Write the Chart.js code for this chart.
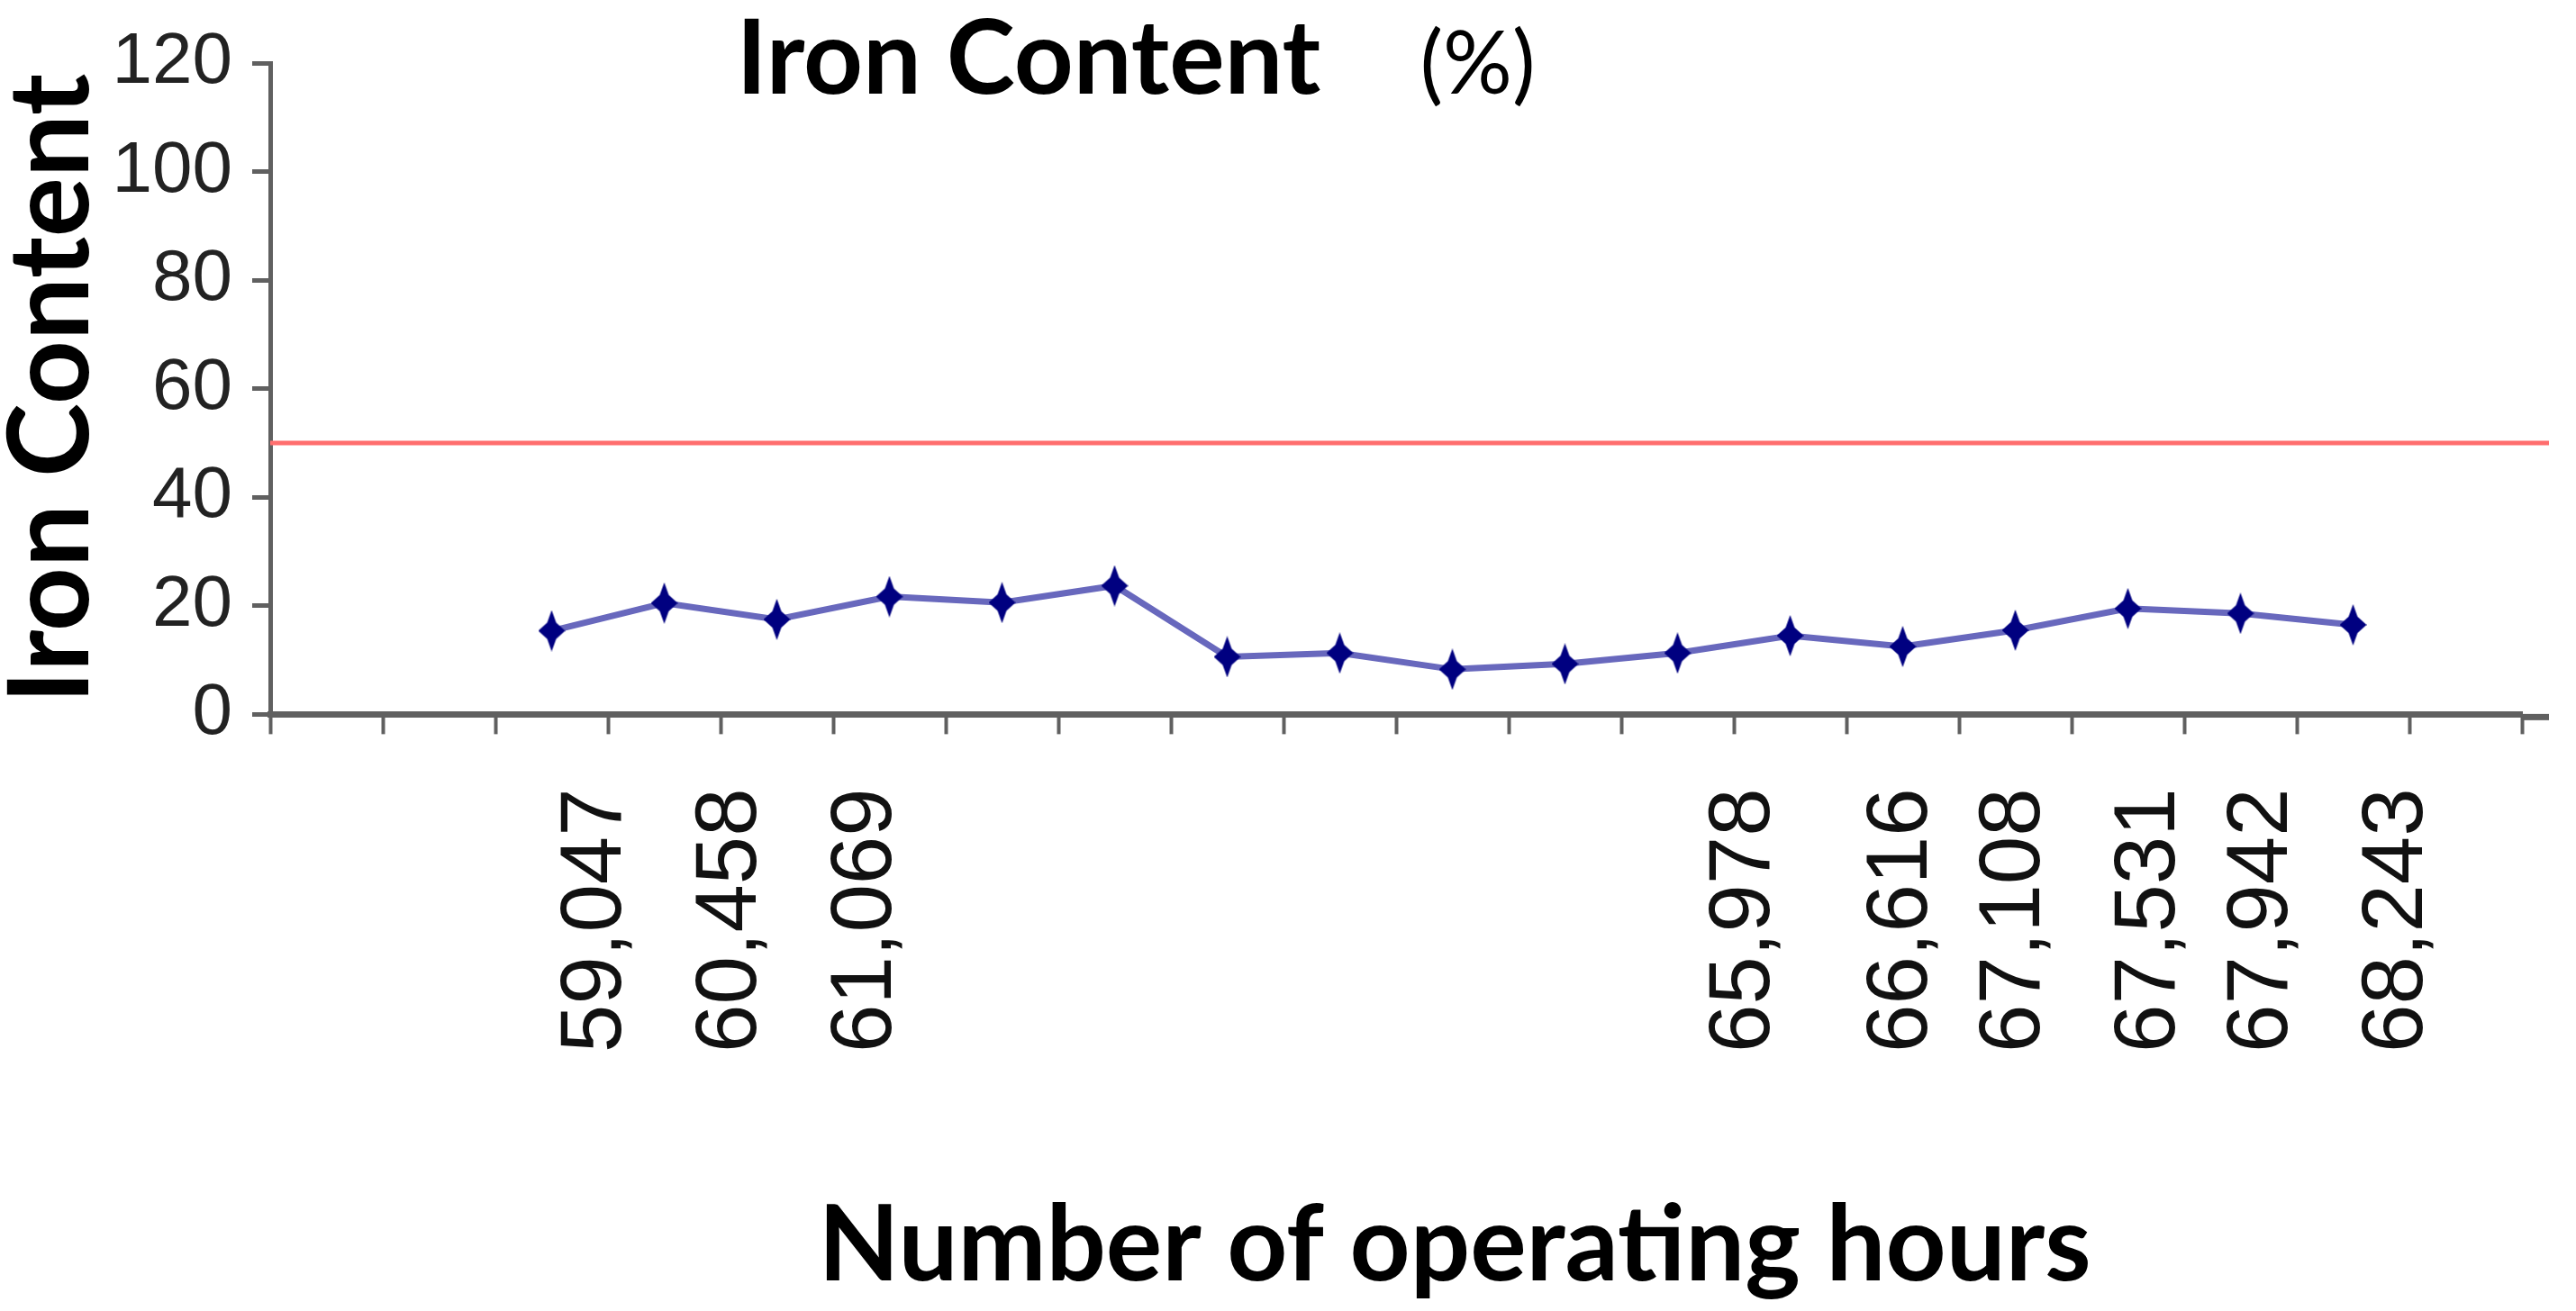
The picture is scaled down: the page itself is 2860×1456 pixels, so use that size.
<!DOCTYPE html>
<html lang="en">
<head>
  <meta charset="UTF-8">
  <title>Iron Content (%)</title>
  <script src="https://cdn.jsdelivr.net/npm/chart.js"></script>
  <style>
    body { margin: 0; background: #fff; }
    canvas { display: block; }
  </style>
</head>
<body>
  <canvas id="grafica" width="2860" height="1456"></canvas>

  <script>
    // sample slots along the x axis (20 categories, first two and last one empty)
    const sampleNo = [1, 2, 3, 4, 5, 6, 7, 8, 9, 10, 11, 12, 13, 14, 15, 16, 17, 18, 19, 20];
    const ironContent = [null, null, 15.4, 20.5, 17.5, 21.7, 20.6, 23.7, 10.6, 11.3,
                         8.3, 9.3, 11.3, 14.5, 12.5, 15.5, 19.5, 18.6, 16.5, null];
    const ironLimit = 50;

    // operating hours printed under the axis (finer slots, most of them blank)
    const hourLabels = [
      '', '', '', '', '', '', '', '', '', '',
      '', '', '', '', '59,047', '', '', '', '', '',
      '60,458', '', '', '', '', '', '61,069', '', '', '',
      '', '', '', '', '', '', '', '', '', '',
      '', '', '', '', '', '', '', '', '', '',
      '', '', '', '', '', '', '', '', '', '',
      '', '', '', '', '', '65,978', '', '', '', '',
      '', '', '66,616', '', '', '', '', '67,108', '', '',
      '', '', '', '67,531', '', '', '', '', '67,942', '',
      '', '', '', '', '68,243', '', '', '', '', ''
    ];

    const yMin = 0, yMax = 120, yStep = 20;
    const titleText = 'Iron Content';
    const unitText = '(%)';
    const xTitleText = 'Number of operating hours';

    // tall diamond marker like the excel one
    function makeMarker(w, h, color) {
      const c = document.createElement('canvas');
      c.width = w; c.height = h;
      const g = c.getContext('2d');
      const cx = w / 2, cy = h / 2;
      g.fillStyle = color;
      g.beginPath();
      g.moveTo(cx, 0);
      g.lineTo(cx + 5, cy - 9);
      g.lineTo(w, cy);
      g.lineTo(cx + 5, cy + 9);
      g.lineTo(cx, h);
      g.lineTo(cx - 5, cy + 9);
      g.lineTo(0, cy);
      g.lineTo(cx - 5, cy - 9);
      g.closePath();
      g.fill();
      return c;
    }

    // red limit line at 50
    const limitLine = {
      id: 'limitLine',
      beforeDatasetsDraw(chart) {
        const { ctx, chartArea, scales } = chart;
        const y = scales.y.getPixelForValue(ironLimit);
        ctx.save();
        ctx.strokeStyle = '#ff6e6e';
        ctx.lineWidth = 5;
        ctx.beginPath();
        ctx.moveTo(chartArea.left, y);
        ctx.lineTo(chartArea.right + 30, y);
        ctx.stroke();
        // axis line runs a bit past the last tick
        ctx.strokeStyle = '#606060';
        ctx.lineWidth = 7;
        ctx.beginPath();
        ctx.moveTo(chartArea.right, chartArea.bottom + 3);
        ctx.lineTo(chartArea.right + 30, chartArea.bottom + 3);
        ctx.stroke();
        ctx.restore();
      }
    };

    // chart title sits inside the plot area, axis title is off-centre like the original
    const titles = {
      id: 'titles',
      afterDraw(chart) {
        const { ctx, chartArea } = chart;
        const x = chartArea.left + chartArea.width * 0.207;
        const y = chartArea.top + 34;
        ctx.save();
        ctx.fillStyle = '#000';
        ctx.textAlign = 'left';
        ctx.textBaseline = 'alphabetic';
        ctx.font = 'bold 115px Lato';
        ctx.fillText(titleText, x, y);
        const w = ctx.measureText(titleText).width;
        ctx.font = '96px Lato';
        ctx.fillText(unitText, x + w + 110, y);

        ctx.textAlign = 'center';
        ctx.font = 'bold 117px Lato';
        ctx.fillText(xTitleText, chartArea.left + chartArea.width * 0.526, chart.height - 34);
        ctx.restore();
      }
    };

    const ctx = document.getElementById('grafica').getContext('2d');
    const chart = new Chart(ctx, {
      type: 'line',
      data: {
        labels: sampleNo,
        datasets: [{
          label: 'Iron Content',
          data: ironContent,
          borderColor: '#6868bd',
          borderWidth: 7,
          pointStyle: makeMarker(30, 46, '#000080'),
          pointRadius: 15,
          tension: 0
        }]
      },
      options: {
        responsive: false,
        animation: false,
        layout: { autoPadding: false, padding: { top: 63, right: 60, left: 0, bottom: 235 } },
        plugins: {
          legend: { display: false },
          tooltip: { enabled: false }
        },
        scales: {
          x: {
            offset: true,
            grid: { drawOnChartArea: false, offset: true, tickLength: 22, tickWidth: 4, tickColor: '#606060' },
            border: { color: '#606060', width: 7 },
            ticks: { display: false }
          },
          x2: {
            type: 'category',
            labels: hourLabels,
            position: 'bottom',
            weight: 1,
            offset: true,
            grid: { display: false },
            border: { display: false },
            ticks: {
              autoSkip: false,
              minRotation: 90,
              maxRotation: 90,
              padding: 52,
              color: '#111',
              font: { family: "'Liberation Sans', Arial", size: 96 }
            },
            afterFit(scale) {
              // rotated labels should not squeeze the plot sideways
              scale.paddingLeft = 0;
              scale.paddingRight = 0;
            }
          },
          y: {
            min: yMin,
            max: yMax,
            ticks: {
              stepSize: yStep,
              autoSkip: false,
              padding: 22,
              color: '#222',
              font: { family: "'Liberation Sans', Arial", size: 80, lineHeight: 1.2 }
            },
            grid: { drawOnChartArea: false, tickLength: 20, tickWidth: 5, tickColor: '#606060' },
            border: { color: '#606060', width: 5 },
            title: {
              display: true,
              text: 'Iron Content',
              color: '#000',
              font: { family: 'Lato', size: 124, weight: 'bold', lineHeight: 0.94 },
              padding: { top: 0, bottom: 2 }
            },
            afterFit(scale) {
              scale.width = 300;
            }
          }
        }
      },
      plugins: [limitLine, titles]
    });
  </script>
</body>
</html>
